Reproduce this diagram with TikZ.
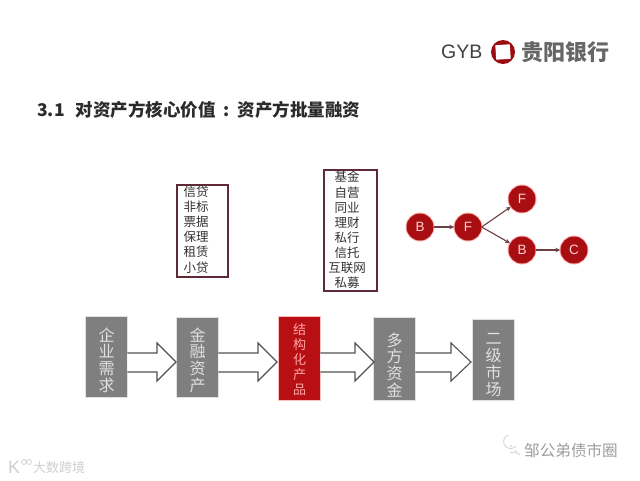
\documentclass[tikz,border=0pt]{standalone}
\usepackage{fontspec}
\setmainfont{Noto Sans CJK SC}
\newfontfamily\latinf{Liberation Sans}
\usetikzlibrary{arrows.meta}
\newcommand{\fsz}[2][0]{\fontsize{#2pt}{#2pt}\selectfont}
\newcommand{\fszb}[2]{\lineskiplimit=-100pt\fontsize{#1pt}{#2pt}\selectfont}
\definecolor{boxgray}{HTML}{7F7F7F}
\definecolor{boxred}{HTML}{B80F14}
\definecolor{frame}{HTML}{5E2A35}
\definecolor{edgec}{HTML}{6E3F45}
\definecolor{inkc}{HTML}{2B2B2B}
\definecolor{wm}{HTML}{CFCFCF}
\tikzset{
  x=1pt,y=-1pt,
  flowbox/.style={rectangle,inner sep=0pt,anchor=north west,fill=boxgray,
    preaction={draw=black!12,line width=2pt}},
  redbox/.style={flowbox,fill=boxred,preaction={draw=red!25,line width=2.5pt}},
  stack/.style={align=center,inner sep=0pt,text=#1,anchor=center},
  stack/.default={black!12},
  bigstack/.style={stack,font=\fszb{16}{16.7}},
  listbox/.style={rectangle,draw=frame,line width=1.7pt,inner sep=0pt,anchor=north west},
  listtext/.style={align=center,inner sep=0pt,text=black!80,anchor=center,font=\fszb{12.5}{15.1}},
  ball/.style={circle,minimum size=27pt,inner sep=0pt,fill=boxred!92!black,text=red!18!white,
    font=\latinf\fsz{13.5},preaction={draw=red!30,line width=2pt}},
  ballarrow/.style={draw=edgec,line width=1.1pt,-{Stealth[length=5pt,width=4.5pt]}},
  blockarrow/.style={draw=black!68,line width=1.1pt,line join=miter,fill=white},
  wmtext/.style={inner sep=0pt,text=wm},
}
% #1 source box, #2 target tip x, #3 x of the head base
\newcommand{\blockarrow}[3]{%
  \draw[blockarrow] (#1.east |- 0,353) -- (#3,353) -- (#3,343) -- (#2,362)
    -- (#3,381) -- (#3,372) -- (#1.east |- 0,372);}
\begin{document}
\begin{tikzpicture}
\useasboundingbox (0,0) rectangle (640,480);
\fill[white] (0,0) rectangle (640,480);

% logo
\node[inner sep=0pt,anchor=west,text=black!75,font=\latinf\fsz{19.5}] (gyb) at (441,52) {GYB};
\node[circle,minimum size=24pt,inner sep=0pt,fill=boxred!85!black] (ring) at (503,52) {};
\node[rectangle,minimum size=14.5pt,inner sep=0pt,fill=white,rotate=4] (hole) at (503,52) {};
\node[inner sep=0pt,anchor=west,text=black!60,font=\bfseries\fsz{22}] (bank) at (521,52) {贵阳银行};

% title
\node[inner sep=0pt,anchor=west,text=inkc,font=\bfseries\fsz{17.5}] (title) at (37,110)
  {3.1\hspace{11pt}对资产方核心价值\hspace{8pt}:\hspace{8pt}资产方批量融资};

% lists
\node[listbox,minimum width=51pt,minimum height=92pt] (list1) at (176,184) {};
\node[listtext] (list1t) at (196,229.5) {信贷\\非标\\票据\\保理\\租赁\\小贷};
\node[listbox,minimum width=53pt,minimum height=121pt] (list2) at (323,169) {};
\node[listtext] (list2t) at (347,230) {基金\\自营\\同业\\理财\\私行\\信托\\互联网\\私募};

% network
\node[ball] (b1) at (420,227) {B};
\node[ball] (f1) at (468,227) {F};
\node[ball] (f2) at (522,199) {F};
\node[ball] (b2) at (522,250) {B};
\node[ball] (c1) at (574,250) {C};
\draw[ballarrow] (b1) -- (f1);
\draw[ballarrow] (f1.east) -- (f2);
\draw[ballarrow] (f1.east) -- (b2);
\draw[ballarrow] (b2) -- (c1);

% flow
\node[flowbox,minimum width=41pt,minimum height=80pt] (a) at (86,317) {};
\node[flowbox,minimum width=41pt,minimum height=79pt] (b) at (177,318) {};
\node[redbox,minimum width=41pt,minimum height=83pt] (c) at (279,317) {};
\node[flowbox,minimum width=41pt,minimum height=82pt] (d) at (374,318) {};
\node[flowbox,minimum width=41pt,minimum height=80pt] (e) at (473,320) {};
\node[bigstack] (at) at (106.5,360) {企\\业\\需\\求};
\node[bigstack] (bt) at (197.5,360) {金\\融\\资\\产};
\node[stack={red!35!white},font=\fszb{13}{15.2}] (ct) at (299.5,359.5) {结\\构\\化\\产\\品};
\node[bigstack] (dt) at (394.5,365) {多\\方\\资\\金};
\node[bigstack] (et) at (493.5,365) {二\\级\\市\\场};
\blockarrow{a}{176}{157}
\blockarrow{b}{277}{258}
\blockarrow{c}{374}{355}
\blockarrow{d}{471}{451}

% watermarks
\node[wmtext,anchor=west,font=\fsz{15.6},text=black!38] (wm1) at (524,451) {邹公弟债市圈};
\draw[wm,line width=.8pt] (516,446) arc (40:250:7) (520,455) arc (-40:-120:8);
\fill[wm] (511,446) circle (1pt) (516,451) circle (.8pt);
\node[wmtext,anchor=west,font=\fsz{13}] (wm2) at (33,468) {大数跨境};
\node[wmtext,anchor=west,font=\latinf\fsz{18}] (wm3) at (8,467) {K};
\draw[wm,line width=.7pt] (24,462) circle (2.5pt) (29,462) circle (2.5pt);
\end{tikzpicture}
\end{document}
